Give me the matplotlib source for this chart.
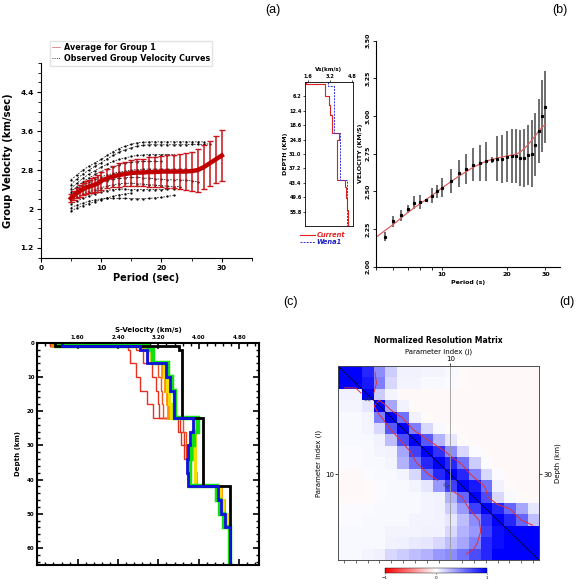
import numpy as np
import matplotlib
matplotlib.use('Agg')
import matplotlib.pyplot as plt
from matplotlib.lines import Line2D
from matplotlib.ticker import MultipleLocator, FixedLocator, NullFormatter

# ---------------- (a) group velocity, average + observed curves
periods_a = [5, 5.5, 6, 6.5, 7, 7.5, 8, 8.5, 9, 9.5, 10, 11, 12, 13, 14, 15, 16, 17, 18,
             19, 20, 21, 22, 23, 24, 25, 26, 27, 28, 29, 30]
avg_vel = [2.22, 2.28, 2.33, 2.37, 2.41, 2.44, 2.46, 2.48, 2.50, 2.53, 2.58, 2.63, 2.67, 2.70,
           2.72, 2.74, 2.75, 2.75, 2.76, 2.76, 2.77, 2.77, 2.77, 2.77, 2.77, 2.78, 2.80, 2.86,
           2.94, 3.02, 3.10]
avg_err = [0.08, 0.10, 0.10, 0.12, 0.12, 0.13, 0.14, 0.15, 0.16, 0.17, 0.18, 0.20, 0.22, 0.24,
           0.25, 0.26, 0.27, 0.28, 0.30, 0.31, 0.32, 0.33, 0.34, 0.36, 0.38, 0.40, 0.44, 0.45,
           0.46, 0.48, 0.52]

obs_periods = [5, 6, 7, 8, 9, 10, 11, 12, 13, 14, 15, 16, 17, 18, 19, 20, 21, 22, 23, 24,
               25, 26, 27, 28]
obs_1 = [2.60, 2.70, 2.80, 2.88, 2.95, 3.02, 3.10, 3.18, 3.24, 3.29, 3.33, 3.36, 3.37, 3.38,
         3.38, 3.38, 3.38, 3.38, 3.38, 3.38, 3.38, 3.38, 3.38]
obs_2 = [2.50, 2.62, 2.72, 2.80, 2.88, 2.95, 3.03, 3.10, 3.17, 3.22, 3.26, 3.29, 3.31, 3.32,
         3.32, 3.32, 3.32, 3.32, 3.32, 3.32, 3.33, 3.33, 3.33, 3.34]
obs_3 = [2.42, 2.53, 2.63, 2.72, 2.79, 2.86, 2.92, 2.98, 3.02, 3.05, 3.08, 3.10, 3.11, 3.12,
         3.12, 3.12, 3.12, 3.12]
obs_4 = [2.35, 2.46, 2.56, 2.64, 2.71, 2.77, 2.82, 2.87, 2.91, 2.94, 2.96, 2.97, 2.98, 2.98,
         2.98, 2.98]
obs_5 = [2.30, 2.40, 2.48, 2.55, 2.61, 2.66, 2.70, 2.73, 2.76, 2.78, 2.80, 2.81, 2.82, 2.82,
         2.82, 2.82, 2.82, 2.82, 2.82, 2.82]
obs_6 = [2.25, 2.33, 2.40, 2.46, 2.51, 2.55, 2.58, 2.61, 2.63, 2.64, 2.65, 2.65, 2.64, 2.63,
         2.62, 2.61, 2.60, 2.60, 2.60, 2.59, 2.58, 2.56]
obs_7 = [2.18, 2.25, 2.31, 2.36, 2.40, 2.44, 2.47, 2.50, 2.52, 2.53, 2.53, 2.52, 2.51, 2.50,
         2.49, 2.48, 2.47, 2.46, 2.46]
obs_8 = [2.10, 2.16, 2.22, 2.27, 2.31, 2.35, 2.38, 2.40, 2.41, 2.41, 2.40, 2.40, 2.40, 2.40,
         2.40, 2.40, 2.41, 2.42]
obs_9 = [2.03, 2.08, 2.12, 2.16, 2.19, 2.21, 2.22, 2.22, 2.22, 2.22, 2.21, 2.21, 2.21, 2.22,
         2.23, 2.24, 2.26, 2.28]
obs_10 = [1.96, 2.02, 2.07, 2.11, 2.15, 2.19, 2.23, 2.26, 2.29, 2.31, 2.33]
obs_curves = [obs_1, obs_2, obs_3, obs_4, obs_5, obs_6, obs_7, obs_8, obs_9, obs_10]

# ---------------- (b) inset Vs profiles
cur_edges = [0, 0.8, 6.2, 10, 14, 22, 25, 32, 42, 45, 50, 55, 62]
cur_vs = [1.5, 2.86, 3.15, 3.25, 3.35, 3.85, 3.75, 3.70, 4.30, 4.40, 4.47, 4.52]
wena_edges = [0, 1.7, 22, 42, 62]
wena_vs = [3.05, 3.52, 3.92, 4.48]

# ---------------- (b) dispersion fit
periods_b = [5.5, 6, 6.5, 7, 7.5, 8, 8.5, 9, 9.5, 10, 11, 12, 13, 14, 15, 16, 17, 18, 19, 20,
             21, 22, 23, 24, 25, 26, 27, 28, 29, 30]
obs_vel_b = [2.20, 2.30, 2.34, 2.385, 2.425, 2.43, 2.44, 2.47, 2.50, 2.525, 2.57, 2.62, 2.65,
             2.675, 2.69, 2.70, 2.71, 2.715, 2.715, 2.73, 2.735, 2.735, 2.72, 2.72, 2.74, 2.75,
             2.81, 2.90, 3.00, 3.06]
obs_err_b = [0.027, 0.034, 0.034, 0.027, 0.045, 0.047, 0.01, 0.05, 0.045, 0.06, 0.08, 0.09,
             0.10, 0.11, 0.12, 0.13, 0.02, 0.15, 0.16, 0.17, 0.18, 0.18, 0.185, 0.19, 0.20,
             0.22, 0.21, 0.21, 0.24, 0.24]
model_per = [5, 5.5, 6, 7, 8, 9, 10, 12, 14, 16, 18, 20, 22, 23, 24, 25, 26, 27, 28, 29, 30]
model_vel = [2.195, 2.24, 2.28, 2.36, 2.42, 2.47, 2.52, 2.60, 2.66, 2.70, 2.72, 2.735, 2.745,
             2.76, 2.785, 2.81, 2.84, 2.87, 2.90, 2.925, 2.945]

# ---------------- (c) S-velocity iterations
layer_edges = [0, 1, 2, 6, 10, 14, 18, 22, 26, 30, 34, 38, 42, 46, 50, 54, 65]
vs_red1 = [1.05, 2.60, 2.64, 2.75, 2.83, 2.97, 3.10, 3.58, 3.64, 3.71, 3.76, 3.78, 4.35, 4.42, 4.49, 4.60]
vs_red2 = [1.05, 2.75, 2.90, 3.07, 3.15, 3.20, 3.22, 3.62, 3.70, 3.74, 3.78, 3.80, 4.37, 4.44, 4.50, 4.60]
vs_red3 = [1.08, 2.85, 3.00, 3.20, 3.25, 3.28, 3.30, 3.68, 3.74, 3.78, 3.80, 3.82, 4.38, 4.45, 4.52, 4.61]
vs_orange = [1.10, 2.90, 3.05, 3.28, 3.33, 3.38, 3.40, 3.92, 3.90, 3.90, 3.92, 3.95, 4.45, 4.50, 4.55, 4.61]
vs_yellow = [1.15, 2.95, 3.05, 3.32, 3.38, 3.42, 3.45, 3.95, 3.93, 3.92, 3.92, 3.93, 4.42, 4.48, 4.55, 4.61]
vs_green = [1.20, 3.00, 3.10, 3.40, 3.47, 3.52, 3.52, 3.98, 3.90, 3.85, 3.82, 3.83, 4.37, 4.43, 4.50, 4.61]
vs_blue = [1.28, 2.83, 2.97, 3.35, 3.43, 3.50, 3.50, 3.89, 3.83, 3.78, 3.76, 3.78, 4.39, 4.45, 4.52, 4.62]
vs_black = [1.15, 3.60, 3.66, 3.66, 3.66, 3.66, 3.66, 4.08, 4.08, 4.08, 4.08, 4.08, 4.62, 4.62, 4.62, 4.62]

# ---------------- (d) normalized resolution matrix (17 x 17)
res_matrix = np.array([
    [1.0, 1.0, 0.85, 0.45, 0.2, 0.05, 0.05, 0.04, 0.04, 0.03, -0.02, -0.03, -0.03, -0.03, -0.03, -0.03, -0.03],
    [1.0, 1.0, 0.9, 0.5, 0.15, 0.04, 0.04, 0.03, 0.03, 0.02, -0.02, -0.03, -0.03, -0.03, -0.03, -0.03, -0.03],
    [0.05, 0.05, 1.0, 0.2, 0.04, -0.03, -0.03, -0.03, -0.03, -0.03, -0.03, -0.03, -0.03, -0.03, -0.03, -0.03, -0.03],
    [0.04, 0.04, 0.1, 1.0, 0.35, 0.05, -0.02, -0.03, -0.03, -0.03, -0.03, -0.03, -0.03, -0.03, -0.03, -0.03, -0.03],
    [0.03, 0.03, 0.04, 0.5, 1.0, 0.55, 0.05, -0.02, -0.03, -0.03, -0.03, -0.03, -0.03, -0.03, -0.03, -0.03, -0.03],
    [0.03, 0.03, 0.04, 0.15, 0.65, 1.0, 0.5, 0.15, 0.03, -0.02, -0.03, -0.03, -0.03, -0.03, -0.03, -0.03, -0.03],
    [0.03, 0.03, 0.03, 0.05, 0.25, 0.7, 1.0, 0.65, 0.3, 0.1, -0.02, -0.03, -0.03, -0.03, -0.03, -0.03, -0.03],
    [0.02, 0.02, 0.03, 0.04, 0.05, 0.35, 0.75, 1.0, 0.8, 0.45, 0.15, 0.02, -0.03, -0.03, -0.03, -0.03, -0.03],
    [0.02, 0.02, 0.03, 0.03, 0.04, 0.3, 0.55, 0.85, 1.0, 0.85, 0.55, 0.2, 0.02, -0.03, -0.03, -0.03, -0.03],
    [-0.03, -0.03, 0.02, 0.03, 0.03, 0.04, 0.15, 0.55, 0.85, 1.0, 0.85, 0.5, 0.15, 0.02, -0.03, -0.03, -0.03],
    [-0.03, -0.03, -0.02, 0.02, 0.03, 0.03, 0.04, 0.1, 0.4, 0.75, 1.0, 0.9, 0.55, 0.05, -0.02, -0.03, -0.03],
    [-0.03, -0.03, -0.02, 0.02, 0.03, 0.03, 0.03, 0.04, 0.05, 0.3, 0.6, 1.0, 0.7, 0.15, 0.03, -0.02, -0.03],
    [0.02, 0.02, 0.02, 0.03, 0.03, 0.03, 0.03, 0.04, 0.05, 0.2, 0.4, 0.75, 1.0, 0.85, 0.6, 0.35, 0.1],
    [0.02, 0.02, 0.03, 0.03, 0.03, 0.03, 0.04, 0.04, 0.05, 0.1, 0.25, 0.45, 0.8, 1.0, 0.85, 0.6, 0.25],
    [0.03, 0.03, 0.03, 0.03, 0.04, 0.04, 0.04, 0.05, 0.05, 0.15, 0.3, 0.4, 0.75, 0.95, 1.0, 1.0, 1.0],
    [0.03, 0.03, 0.03, 0.03, 0.05, 0.06, 0.08, 0.1, 0.15, 0.25, 0.35, 0.5, 0.85, 0.95, 1.0, 1.0, 1.0],
    [0.03, 0.03, 0.04, 0.06, 0.15, 0.2, 0.25, 0.3, 0.4, 0.45, 0.55, 0.7, 0.85, 1.0, 1.0, 1.0, 1.0],
])


def steps(edges, vs):
    x = np.repeat(vs, 2)
    y = np.column_stack([edges[:-1], edges[1:]]).ravel()
    return x, y


W, H = 577, 586
fig = plt.figure(figsize=(W / 100, H / 100), dpi=100)


def box(l, t, r, b):
    return [l / W, 1 - b / H, (r - l) / W, (b - t) / H]


def ftext(x, y, s, **kw):
    fig.text(x / W, 1 - y / H, s, **kw)


# ================= (a)
axa = fig.add_axes(box(40.7, 63, 252, 257.7))
for vals in obs_curves:
    axa.plot(obs_periods[:len(vals)], vals, color='k', lw=0.5, ls=(0, (2.5, 2)),
             marker='.', ms=1.3)
axa.errorbar(periods_a, avg_vel, yerr=avg_err, color='#c00000', ecolor='#c8141a',
             lw=3.2, elinewidth=1.1, capsize=2.2, capthick=1.0)
axa.set_xlim(0, 35)
axa.set_ylim(1.0, 5.0)
axa.set_xticks([0, 10, 20, 30])
axa.xaxis.set_minor_locator(MultipleLocator(5))
axa.set_yticks([1.2, 2.0, 2.8, 3.6, 4.4])
axa.set_yticklabels(['1.2', '2', '2.8', '3.6', '4.4'])
axa.yaxis.set_minor_locator(MultipleLocator(0.2))
for s in ['top', 'right']:
    axa.spines[s].set_visible(False)
axa.tick_params(labelsize=5.3, width=0.8, length=3, pad=2)
axa.tick_params(which='minor', length=2, width=0.6)
for lab in axa.get_xticklabels() + axa.get_yticklabels():
    lab.set_fontweight('bold')
axa.set_xlabel('Period (sec)', fontsize=7, fontweight='bold', labelpad=2)
axa.set_ylabel('Group Velocity (km/sec)', fontsize=7.2, fontweight='bold', labelpad=5)
handles = [Line2D([], [], color='#e08080', lw=0.6),
           Line2D([], [], color='k', lw=0.6, ls=':')]
axa.legend(handles, ['Average for Group 1', 'Observed Group Velocity Curves'],
           loc='upper left', bbox_to_anchor=(0.025, 1.135),
           prop={'weight': 'bold', 'size': 5.8}, frameon=True, fancybox=False,
           edgecolor='#dddddd', handlelength=1.0, handletextpad=0.4,
           borderpad=0.3, labelspacing=0.25)

# ================= (b) inset
axi = fig.add_axes(box(305, 82, 353, 226))
x, y = steps(cur_edges, cur_vs)
axi.plot(x, y, color='#e02020', lw=0.8)
x, y = steps(wena_edges, wena_vs)
axi.plot(x, y, color='#3030e0', lw=0.7, ls=(0, (2, 1.2)))
axi.set_xlim(1.4, 4.9)
axi.set_ylim(62, 0)
axi.xaxis.tick_top()
axi.set_xticks([1.6, 3.2, 4.8])
axi.set_yticks([6.2, 12.4, 18.6, 24.8, 31.0, 37.2, 43.4, 49.6, 55.8])
axi.tick_params(labelsize=3.6, length=1.5, width=0.5, pad=1)
for lab in axi.get_xticklabels() + axi.get_yticklabels():
    lab.set_fontweight('bold')
for s in axi.spines.values():
    s.set_linewidth(0.6)
axi.set_xlabel('Vs(km/s)', fontsize=4, fontweight='bold', labelpad=1.5)
axi.xaxis.set_label_position('top')
axi.set_ylabel('DEPTH (KM)', fontsize=4.5, fontweight='bold', labelpad=1)
lg = axi.legend([Line2D([], [], color='#e02020', lw=0.8),
                 Line2D([], [], color='#3030e0', lw=0.7, ls=(0, (2, 1.2)))],
                ['Current', 'Wena1'], loc='upper left', bbox_to_anchor=(-0.2, -0.01),
                frameon=False, prop={'weight': 'bold', 'size': 4.8, 'style': 'italic'},
                handlelength=2.2, handletextpad=0.3, labelspacing=0.2, borderpad=0.2)
lg.get_texts()[0].set_color('#e02020')
lg.get_texts()[1].set_color('#2020c0')

# ================= (b) main
axb = fig.add_axes(box(376, 40.5, 560, 266.7))
axb.errorbar(periods_b, obs_vel_b, yerr=obs_err_b, fmt='s', ms=1.3, color='k',
             ecolor='#555555', elinewidth=1.2, capsize=0)
axb.plot(model_per, model_vel, color='#e06060', lw=0.9)
axb.set_xscale('log')
axb.set_xlim(5, 35)
axb.set_ylim(2.0, 3.5)
axb.xaxis.set_major_locator(FixedLocator([10, 20, 30]))
axb.xaxis.set_major_formatter(matplotlib.ticker.FixedFormatter(['10', '20', '30']))
axb.xaxis.set_minor_locator(FixedLocator([5, 6, 7, 8, 9]))
axb.xaxis.set_minor_formatter(NullFormatter())
axb.set_yticks([2.0, 2.25, 2.5, 2.75, 3.0, 3.25, 3.5])
axb.set_yticklabels(['2.00', '2.25', '2.50', '2.75', '3.00', '3.25', '3.50'],
                    rotation=90, va='center')
for s in ['top', 'right']:
    axb.spines[s].set_visible(False)
for s in ['left', 'bottom']:
    axb.spines[s].set_linewidth(0.8)
axb.tick_params(labelsize=4.5, length=2.5, width=0.6, pad=1.5)
axb.tick_params(which='minor', length=2.5, width=0.6)
for lab in axb.get_xticklabels() + axb.get_yticklabels():
    lab.set_fontweight('bold')
axb.set_xlabel('Period (s)', fontsize=4.5, fontweight='bold', labelpad=2)
axb.set_ylabel('VELOCITY (KM/S)', fontsize=4.5, fontweight='bold', labelpad=2)

# ================= (c)
axc = fig.add_axes(box(37.3, 342.7, 259.3, 565))
profiles = [(vs_red1, '#e83020', 1.0), (vs_red2, '#e83020', 1.0), (vs_red3, '#f05020', 1.0),
            (vs_orange, '#ff9000', 2.0), (vs_yellow, '#f0e000', 2.2),
            (vs_green, '#10e010', 3.2), (vs_black, 'k', 2.0), (vs_blue, '#1010e0', 2.0)]
for vs, c, lw in profiles:
    x, y = steps(layer_edges, vs)
    axc.plot(x, y, color=c, lw=lw, solid_joinstyle='miter')
axc.set_xlim(0.8, 5.2)
axc.set_ylim(65, 0)
axc.xaxis.tick_top()
axc.set_xticks([1.6, 2.4, 3.2, 4.0, 4.8])
axc.set_xticklabels(['1.60', '2.40', '3.20', '4.00', '4.80'])
axc.xaxis.set_minor_locator(MultipleLocator(0.16))
axc.set_yticks([0, 10, 20, 30, 40, 50, 60])
axc.yaxis.set_minor_locator(MultipleLocator(2))
axc.tick_params(which='both', direction='in', top=True, bottom=True, left=True, right=True,
                labeltop=True, labelbottom=False, labelsize=4, pad=2)
axc.tick_params(which='major', length=4, width=1.2)
axc.tick_params(which='minor', length=2, width=1.0)
for lab in axc.get_xticklabels() + axc.get_yticklabels():
    lab.set_fontweight('bold')
for s in axc.spines.values():
    s.set_linewidth(1.5)
axc.set_xlabel('S-Velocity (km/s)', fontsize=5, fontweight='bold', labelpad=2)
axc.xaxis.set_label_position('top')
axc.set_ylabel('Depth (km)', fontsize=5, fontweight='bold', labelpad=4)

# ================= (d)
axd = fig.add_axes(box(338, 366, 539, 560))
im = axd.imshow(res_matrix, cmap='bwr_r', vmin=-1, vmax=1, aspect='auto',
                interpolation='nearest', extent=(0.5, 17.5, 17.5, 0.5))
idx = np.arange(1, 18)
cs = axd.contour(idx, idx, res_matrix, levels=[0.6], colors='#e03030', linewidths=0.7)
axd.clabel(cs, fmt='%.1f', fontsize=3.5, colors='#203060')
axd.plot([0.5, 17.5], [0.5, 17.5], color='k', lw=0.5)
axd.axvline(10, color='#999999', lw=0.6)
axd.set_xlim(0.5, 17.5)
axd.set_ylim(17.5, 0.5)
axd.xaxis.tick_top()
axd.set_xticks([10])
axd.set_yticks([10])
axd.tick_params(labelsize=5, length=2, width=0.5, pad=1)
axd.xaxis.set_minor_locator(FixedLocator(idx))
axd.tick_params(axis='x', which='minor', bottom=True, top=False, length=2, width=0.4)
for s in axd.spines.values():
    s.set_linewidth(0.5)
    s.set_color('#444444')
axd.set_xlabel('Parameter index (j)', fontsize=5, labelpad=1.5)
axd.xaxis.set_label_position('top')
axd.set_ylabel('Parameter index (i)', fontsize=5, labelpad=2)
axd.set_title('Normalized Resolution Matrix', fontsize=5.5, fontweight='bold', pad=4)
axr = axd.twinx()
axr.set_ylim(17.5, 0.5)
axr.set_yticks([10])
axr.set_yticklabels(['30'])
axr.tick_params(labelsize=5, length=2, width=0.5, pad=1)
axr.set_ylabel('Depth (km)', fontsize=5, labelpad=2)
for s in axr.spines.values():
    s.set_linewidth(0.5)
    s.set_color('#444444')

cax = fig.add_axes(box(385, 568, 487, 573))
cb = fig.colorbar(im, cax=cax, orientation='horizontal', ticks=[-1, 0, 1])
cb.ax.tick_params(labelsize=3, length=1, width=0.4, pad=1)
cb.outline.set_linewidth(0.3)

# panel letters
for s, x, y in [('(a)', 273, 10), ('(b)', 560, 10), ('(c)', 290, 302), ('(d)', 567, 302)]:
    ftext(x, y, s, fontsize=9, family='Liberation Sans', ha='center', va='center')

fig.savefig('out.png', dpi=100)
